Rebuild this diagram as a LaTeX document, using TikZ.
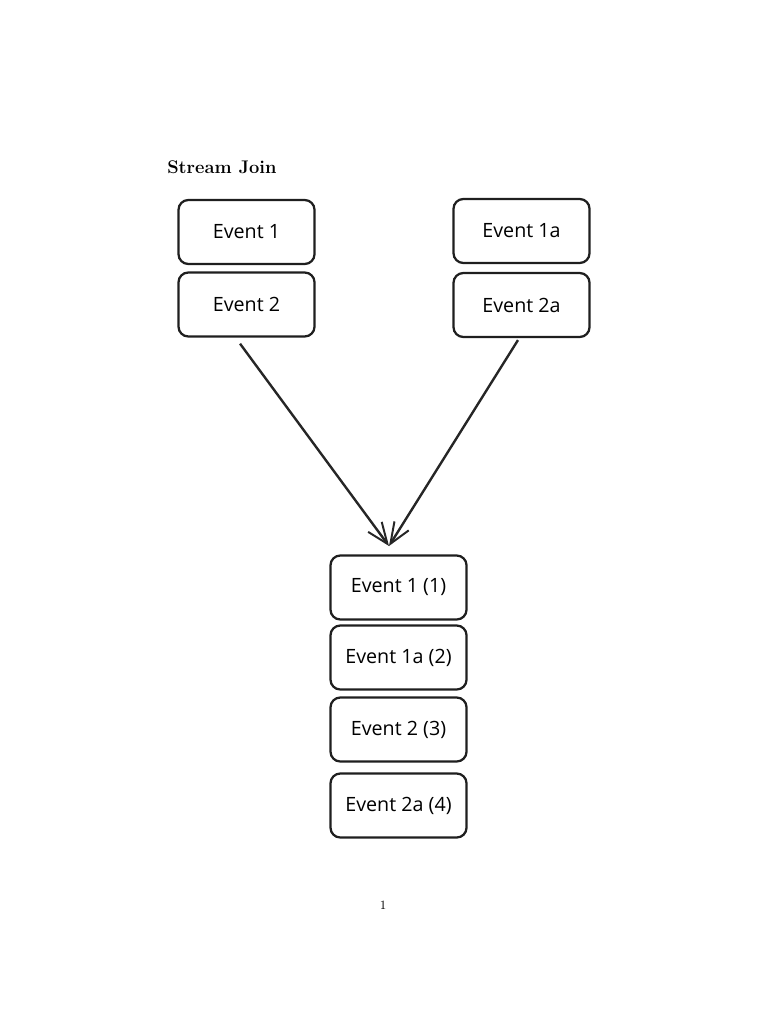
\documentclass[tikz,border=0pt]{standalone}
\usepackage{fontspec}
\newfontfamily\handfont{Open Sans}
\usetikzlibrary{arrows.meta,positioning}

\begin{document}
\begin{tikzpicture}
		[x=0.025cm,y=-0.025cm,
		event/.style={draw=black!88,line width=1.6pt,rounded corners=7pt,
			minimum width=3.4cm,minimum height=1.6cm,inner sep=0pt,
			font=\handfont\fontsize{14}{16}\selectfont},
		flow/.style={draw=black!85,line width=1.7pt,
			-{Straight Barb[length=15pt,width=12pt,line width=1.4pt]}}]
		\useasboundingbox (0,0) rectangle (768,1024);
		
		\node[anchor=base west,inner sep=0pt,font=\fontsize{13}{15}\selectfont\bfseries] (title) at (167,174) {Stream Join};
		
		% left stream
		\node[event] (e1) at (246.5,232) {Event 1};
		\node[event] (e2) at (246.5,304.5) {Event 2};
		
		% right stream
		\node[event] (e1a) at (521.5,231) {Event 1a};
		\node[event] (e2a) at (521.5,305) {Event 2a};
		
		% joined stream
		\node[event] (j1) at (398.5,587.5) {Event 1 (1)};
		\node[event] (j2) at (398.5,657.5) {Event 1a (2)};
		\node[event] (j3) at (398.5,729.5) {Event 2 (3)};
		\node[event] (j4) at (398.5,805.5) {Event 2a (4)};
		
		\coordinate (join) at (389,546);
		
		\draw[flow] ([xshift=-4.6pt,yshift=-4.3pt]e2.south) -- (join);
		\draw[flow] ([xshift=-2.5pt,yshift=-1.4pt]e2a.south) -- (join);
		
		\node[font=\fontsize{9}{11}\selectfont] (page) at (383,905) {1};
\end{tikzpicture}
\end{document}
